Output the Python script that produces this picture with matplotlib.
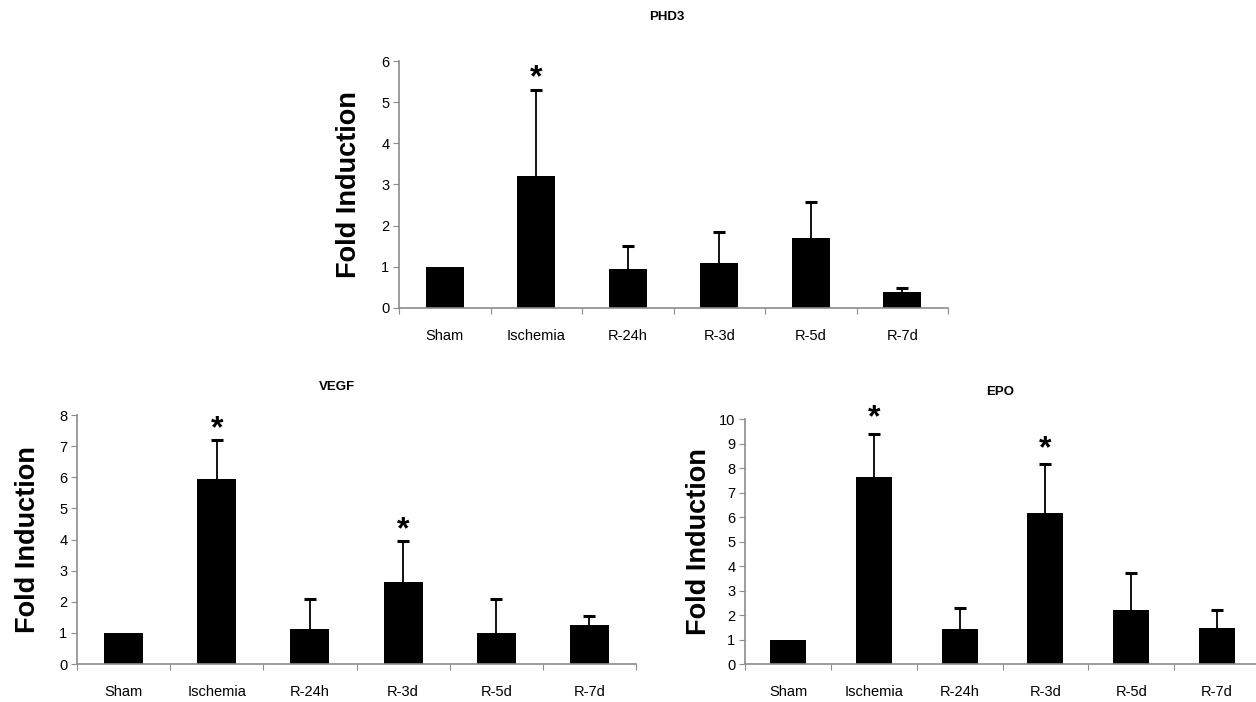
import matplotlib

matplotlib.use("Agg")
import matplotlib.pyplot as plt
import matplotlib.transforms as mtransforms
import numpy as np

plt.rcParams["font.family"] = ["Liberation Sans", "DejaVu Sans"]

GROUPS = ["Sham", "Ischemia", "R-24h", "R-3d", "R-5d", "R-7d"]

# mean fold induction and top of the (upper-only) error bar
PHD3_MEAN = [1.0, 3.2, 0.95, 1.1, 1.7, 0.38]
PHD3_TOP = [1.0, 5.3, 1.5, 1.85, 2.57, 0.48]
PHD3_STARS = ["Ischemia"]

VEGF_MEAN = [1.0, 5.95, 1.12, 2.65, 1.0, 1.25]
VEGF_TOP = [1.0, 7.2, 2.1, 3.95, 2.1, 1.55]
VEGF_STARS = ["Ischemia", "R-3d"]

EPO_MEAN = [1.0, 7.65, 1.42, 6.15, 2.2, 1.47]
EPO_TOP = [1.0, 9.4, 2.3, 8.15, 3.72, 2.2]
EPO_STARS = ["Ischemia", "R-3d"]

GREY = "#8c8c8c"


def panel(fig, rect, title, title_xy, mean, top, stars, ymax, star_pt, ylab_x):
    ax = fig.add_axes(rect)
    x = np.arange(len(GROUPS)) + 0.5
    mean = np.asarray(mean)
    top = np.asarray(top)
    ax.bar(x, mean, width=0.42, color="black", zorder=2)
    has_err = top > mean
    ax.vlines(x[has_err], mean[has_err], top[has_err], color="black", lw=1.3, zorder=3)
    ax.plot(x[has_err], top[has_err], ls="none", marker="_", ms=8, mew=2.2,
            color="black", zorder=3)
    for name in stars:
        i = GROUPS.index(name)
        ax.annotate("*", (x[i], top[i]), xytext=(0, star_pt), textcoords="offset points",
                    ha="center", va="center", fontsize=23, fontweight="bold")
    ax.set_xlim(0, len(GROUPS))
    ax.set_ylim(0, ymax)
    ax.set_yticks(range(0, ymax + 1))
    ax.set_xticks(np.arange(len(GROUPS) + 1))
    ax.set_xticklabels([])
    ax.set_xticks(x, minor=True)
    ax.set_xticklabels(GROUPS, minor=True)
    ax.tick_params(axis="x", which="minor", length=0, pad=15, labelsize=10.5)
    ax.tick_params(axis="x", which="major", length=4, color=GREY, direction="out")
    ax.tick_params(axis="y", length=4, color=GREY, labelsize=10.5, pad=3)
    for s in ("top", "right"):
        ax.spines[s].set_visible(False)
    for s in ("left", "bottom"):
        ax.spines[s].set_color(GREY)
        ax.spines[s].set_linewidth(1.2)
    ax.set_ylabel("Fold Induction", fontsize=19.5, fontweight="bold")
    blend = mtransforms.blended_transform_factory(fig.transFigure, ax.transAxes)
    ax.yaxis.set_label_coords(ylab_x, 0.5, transform=blend)
    fig.text(title_xy[0], title_xy[1], title, ha="center", va="center",
             fontsize=9.5, fontweight="bold")
    return ax


fig = plt.figure(figsize=(12.56, 7.02), dpi=100)

panel(fig, [0.3177, 0.5613, 0.4371, 0.3518], "PHD3", (667 / 1256, 1 - 17 / 702),
      PHD3_MEAN, PHD3_TOP, PHD3_STARS, 6, 8, 362 / 1256)
panel(fig, [0.0613, 0.0541, 0.4451, 0.3547], "VEGF", (337 / 1256, 1 - 387 / 702),
      VEGF_MEAN, VEGF_TOP, VEGF_STARS, 8, 8, 41 / 1256)
panel(fig, [0.5932, 0.0541, 0.4100, 0.3490], "EPO", (1000 / 1256, 1 - 392 / 702),
      EPO_MEAN, EPO_TOP, EPO_STARS, 10, 11, 712 / 1256)

fig.savefig("out.png", dpi=100)
plt.close(fig)
